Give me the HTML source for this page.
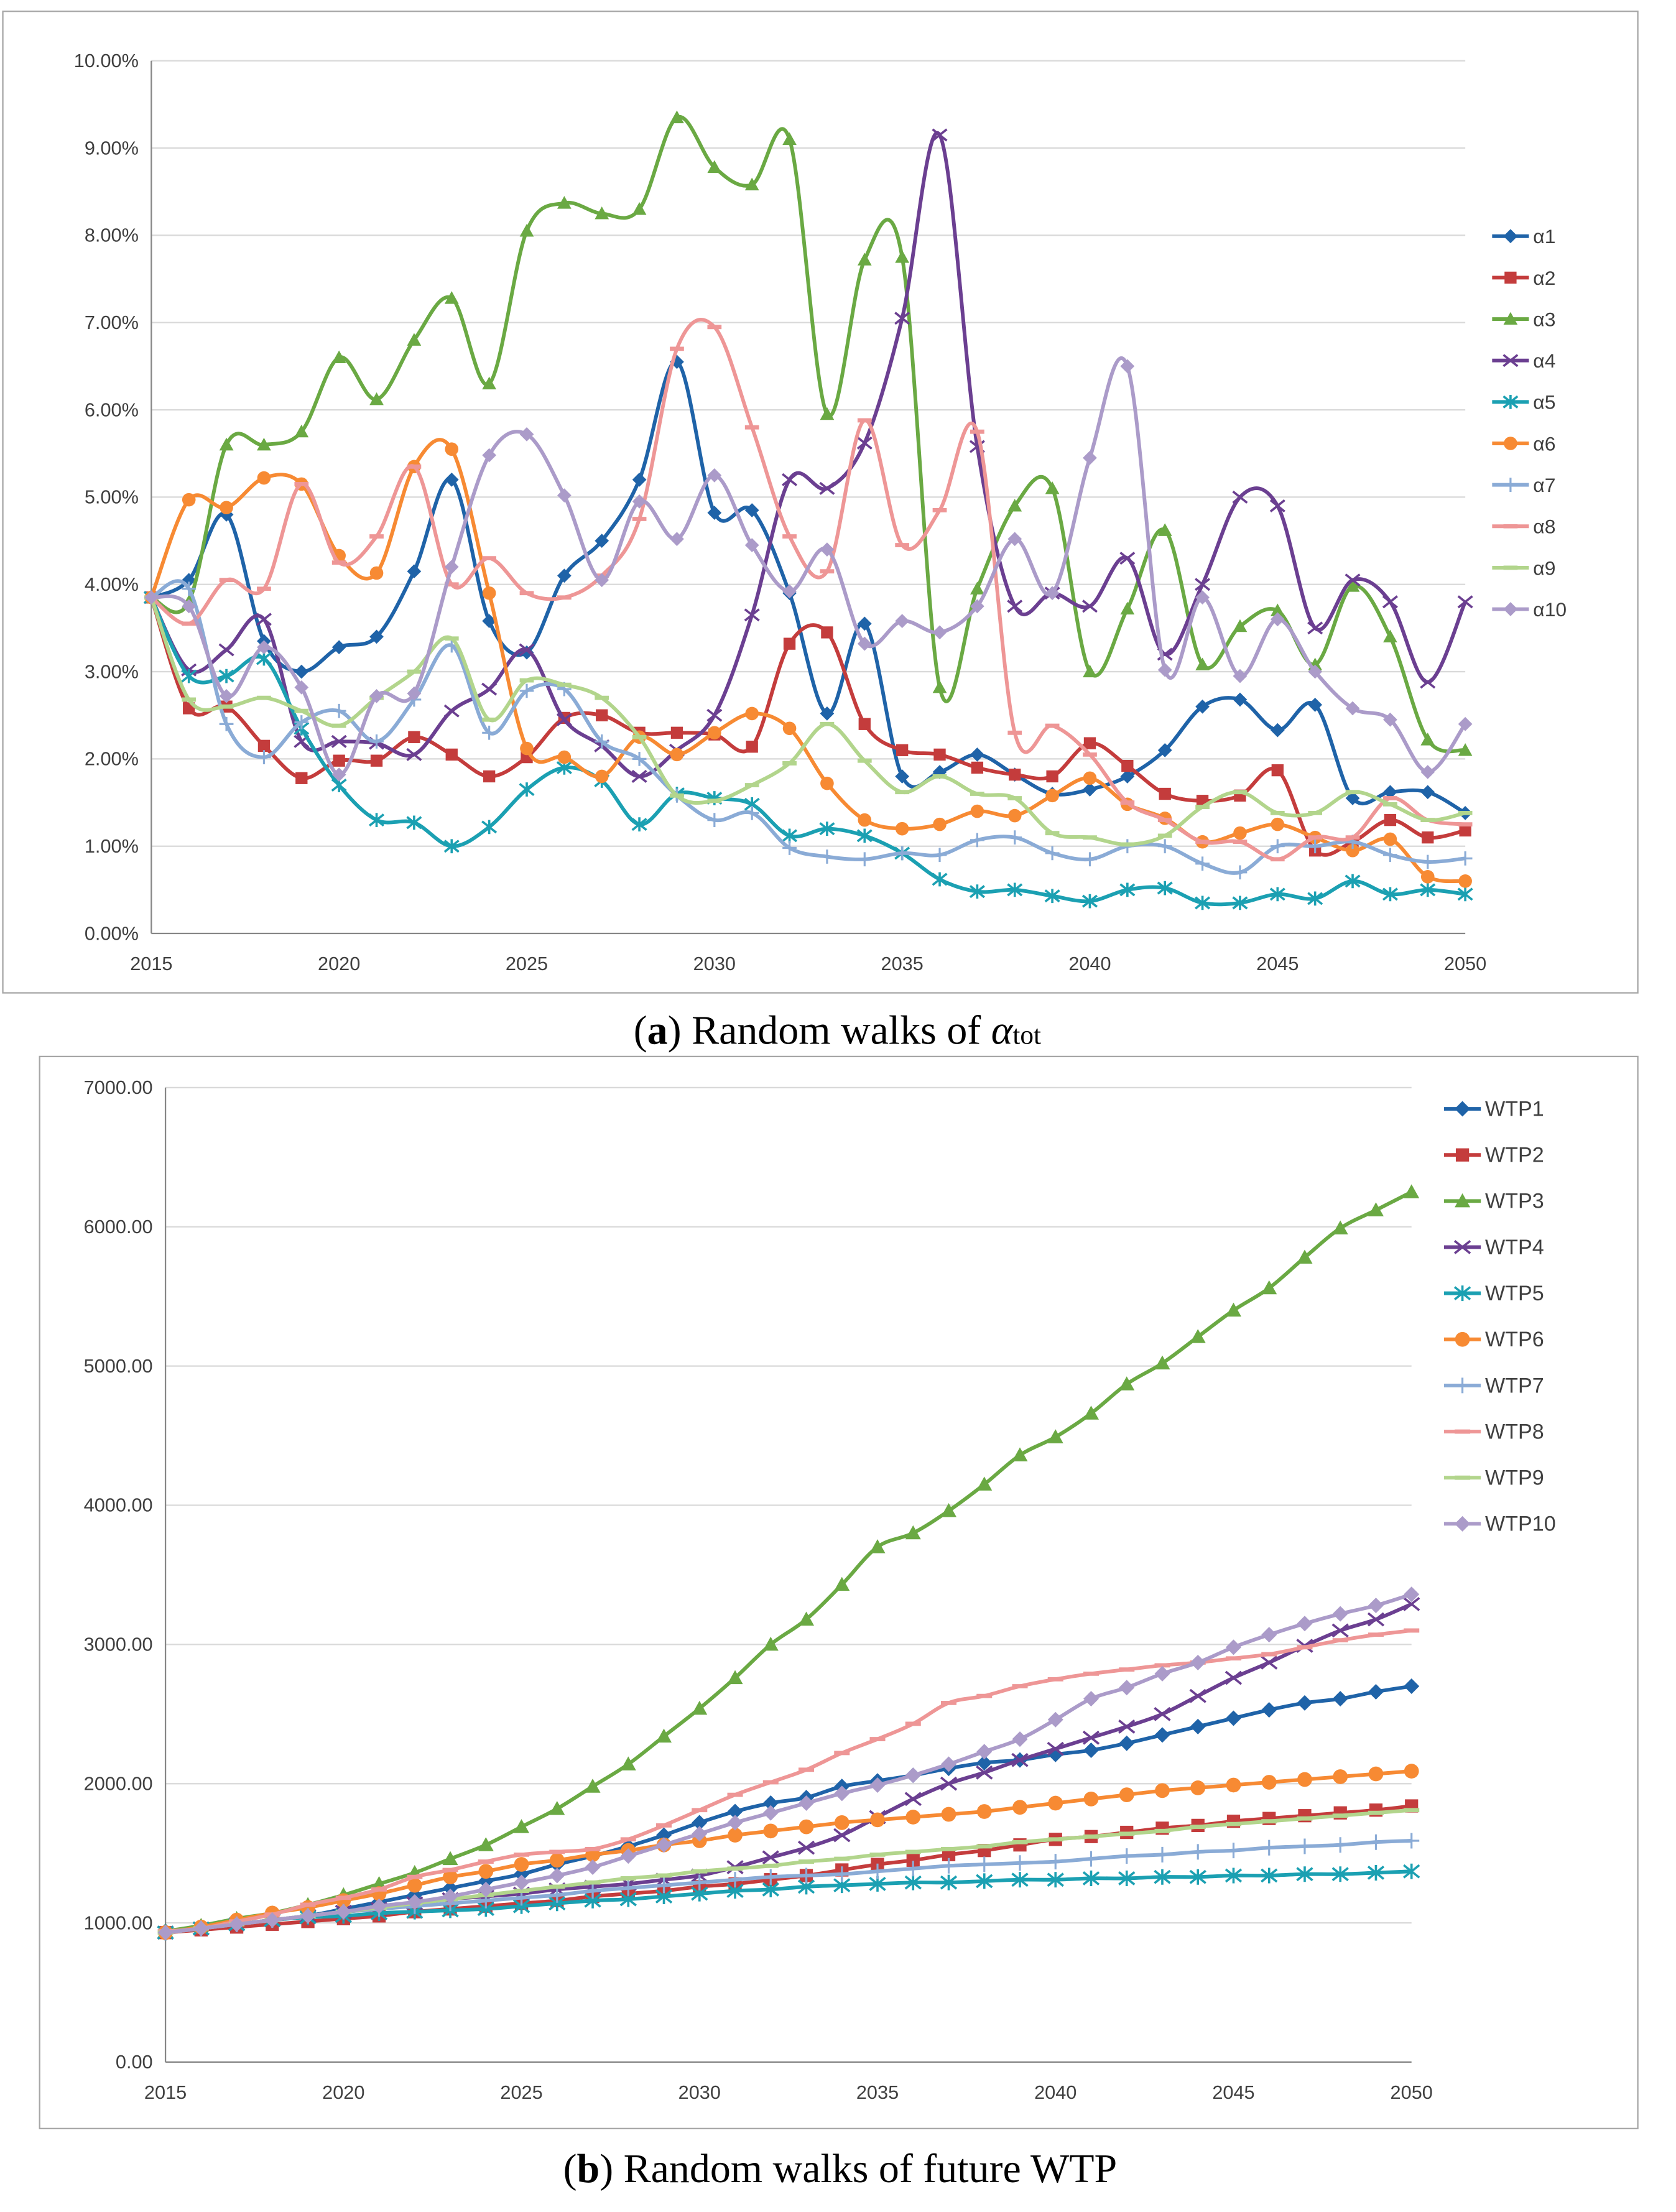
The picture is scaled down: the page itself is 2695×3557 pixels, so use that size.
<!DOCTYPE html>
<html><head><meta charset="utf-8"><style>
html,body{margin:0;padding:0;background:#fff;}
svg{display:block;}
text{font-family:"Liberation Sans",sans-serif;}
</style></head><body>
<svg id="fig" width="2695" height="3557" viewBox="0 0 1185 1564" preserveAspectRatio="none" xmlns="http://www.w3.org/2000/svg">
<rect x="0" y="0" width="1185" height="1564" fill="#fff"/>
<rect x="2" y="8" width="1156" height="694" fill="#fff" stroke="#a6a6a6" stroke-width="1"/>
<rect x="28" y="747" width="1130" height="758" fill="#fff" stroke="#a6a6a6" stroke-width="1"/>
<g id="ga"></g>
<g id="gb"></g>
<text x="592" y="738" text-anchor="middle" font-size="29" style="font-family:'Liberation Serif',serif">(<tspan font-weight="bold">a</tspan>) Random walks of <tspan font-style="italic">α</tspan><tspan font-size="19">tot</tspan></text>
<text x="594" y="1543" text-anchor="middle" font-size="29" style="font-family:'Liberation Serif',serif">(<tspan font-weight="bold">b</tspan>) Random walks of future WTP</text>
</svg>
<script>
const years=[];for(let y=2015;y<=2050;y++)years.push(y);
const xTicks=[2015,2020,2025,2030,2035,2040,2045,2050];
const aTicks=[0,1,2,3,4,5,6,7,8,9,10];
const bTicks=[0,1000,2000,3000,4000,5000,6000,7000];
const aNames=["α1","α2","α3","α4","α5","α6","α7","α8","α9","α10"];
const bNames=["WTP1","WTP2","WTP3","WTP4","WTP5","WTP6","WTP7","WTP8","WTP9","WTP10"];
const a1=[3.85,4.05,4.8,3.35,3.0,3.28,3.4,4.15,5.2,3.58,3.22,4.1,4.5,5.2,6.55,4.82,4.85,3.9,2.52,3.55,1.8,1.85,2.05,1.82,1.6,1.65,1.8,2.1,2.6,2.68,2.33,2.62,1.55,1.62,1.62,1.38];
const a2=[3.85,2.58,2.6,2.15,1.78,1.98,1.98,2.25,2.05,1.8,2.02,2.47,2.5,2.3,2.3,2.28,2.14,3.32,3.45,2.4,2.1,2.05,1.9,1.82,1.8,2.18,1.92,1.6,1.52,1.58,1.87,0.95,1.05,1.3,1.1,1.18];
const a3=[3.85,3.8,5.6,5.6,5.75,6.6,6.12,6.8,7.28,6.3,8.05,8.37,8.25,8.3,9.35,8.78,8.58,9.1,5.95,7.72,7.75,2.82,3.95,4.9,5.1,3.0,3.72,4.62,3.08,3.52,3.7,3.08,3.98,3.4,2.22,2.1];
const a4=[3.85,3.02,3.25,3.6,2.2,2.2,2.18,2.05,2.55,2.8,3.25,2.45,2.15,1.8,2.1,2.5,3.65,5.2,5.1,5.62,7.05,9.15,5.58,3.75,3.9,3.75,4.3,3.2,4.0,5.0,4.9,3.5,4.05,3.8,2.88,3.8];
const a5=[3.85,2.95,2.95,3.15,2.35,1.7,1.3,1.27,1.0,1.22,1.65,1.9,1.75,1.25,1.6,1.55,1.48,1.12,1.2,1.12,0.92,0.62,0.48,0.5,0.43,0.37,0.5,0.52,0.35,0.35,0.45,0.4,0.6,0.45,0.5,0.45];
const a6=[3.85,4.97,4.88,5.22,5.15,4.33,4.13,5.35,5.55,3.9,2.12,2.02,1.8,2.25,2.05,2.3,2.52,2.35,1.72,1.3,1.2,1.25,1.4,1.35,1.58,1.78,1.48,1.32,1.05,1.15,1.25,1.1,0.95,1.08,0.65,0.6];
const a7=[3.85,3.95,2.4,2.02,2.42,2.55,2.2,2.68,3.3,2.3,2.78,2.8,2.2,2.0,1.58,1.3,1.38,0.98,0.88,0.85,0.92,0.9,1.07,1.1,0.92,0.85,1.0,1.0,0.8,0.7,1.0,1.0,1.05,0.9,0.82,0.86];
const a8=[3.85,3.55,4.05,3.95,5.15,4.25,4.55,5.35,4.0,4.3,3.9,3.85,4.1,4.75,6.7,6.95,5.8,4.55,4.15,5.88,4.45,4.85,5.75,2.3,2.38,2.05,1.5,1.3,1.05,1.05,0.85,1.1,1.1,1.55,1.3,1.25];
const a9=[3.85,2.68,2.6,2.7,2.55,2.38,2.7,3.0,3.38,2.45,2.9,2.85,2.7,2.25,1.58,1.52,1.7,1.95,2.4,1.98,1.62,1.8,1.6,1.55,1.15,1.1,1.02,1.12,1.45,1.62,1.38,1.38,1.62,1.48,1.3,1.38];
const a10=[3.85,3.75,2.72,3.28,2.82,1.82,2.72,2.75,4.2,5.48,5.72,5.02,4.05,4.95,4.52,5.25,4.45,3.92,4.4,3.32,3.58,3.45,3.75,4.52,3.9,5.45,6.5,3.02,3.85,2.95,3.6,3.0,2.58,2.45,1.85,2.4];
const w1=[940,960,990,1020,1050,1100,1150,1200,1250,1300,1350,1420,1480,1550,1630,1720,1800,1860,1900,1980,2020,2060,2110,2150,2170,2210,2240,2290,2350,2410,2470,2530,2580,2610,2660,2700];
const w2=[930,950,970,990,1010,1030,1050,1080,1100,1120,1140,1160,1190,1210,1230,1260,1280,1310,1340,1380,1420,1450,1490,1520,1560,1600,1620,1650,1680,1700,1730,1750,1770,1790,1810,1840];
const w3=[940,980,1030,1070,1130,1200,1280,1360,1460,1560,1690,1820,1980,2140,2340,2540,2760,3000,3180,3430,3700,3800,3960,4150,4360,4490,4660,4870,5020,5210,5400,5560,5780,5990,6120,6250];
const w4=[930,960,990,1020,1050,1080,1100,1140,1170,1190,1210,1240,1260,1280,1310,1340,1400,1470,1540,1630,1760,1890,2000,2080,2170,2250,2330,2410,2500,2630,2760,2870,2990,3100,3180,3290];
const w5=[930,960,990,1020,1040,1050,1070,1080,1090,1100,1120,1140,1160,1170,1190,1210,1230,1240,1260,1270,1280,1290,1290,1300,1310,1310,1320,1320,1330,1330,1340,1340,1350,1350,1360,1370];
const w6=[930,970,1020,1070,1110,1160,1210,1270,1330,1370,1420,1450,1490,1520,1560,1590,1630,1660,1690,1720,1740,1760,1780,1800,1830,1860,1890,1920,1950,1970,1990,2010,2030,2050,2070,2090];
const w7=[930,960,990,1020,1050,1080,1100,1120,1140,1160,1180,1200,1230,1250,1270,1290,1310,1330,1340,1350,1370,1390,1410,1420,1430,1440,1460,1480,1490,1510,1520,1540,1550,1560,1580,1590];
const w8=[940,960,1010,1060,1130,1180,1240,1330,1380,1440,1490,1510,1530,1600,1700,1810,1920,2010,2100,2220,2320,2430,2580,2630,2700,2750,2790,2820,2850,2870,2900,2930,2980,3030,3070,3100];
const w9=[930,960,990,1020,1050,1080,1110,1140,1170,1200,1230,1260,1290,1320,1340,1370,1390,1410,1440,1460,1490,1510,1530,1550,1580,1600,1620,1640,1660,1690,1710,1730,1750,1770,1790,1810];
const w10=[930,960,990,1020,1050,1080,1120,1150,1190,1240,1290,1340,1400,1480,1560,1640,1720,1790,1860,1930,1990,2060,2140,2230,2320,2460,2610,2690,2790,2870,2980,3070,3150,3220,3280,3360];
const aSeries=[a1,a2,a3,a4,a5,a6,a7,a8,a9,a10];
const bSeries=[w1,w2,w3,w4,w5,w6,w7,w8,w9,w10];

const colors=["#1f63a8","#c43c3c","#6aa943","#6b3f91","#1ba0b2","#f78a33","#8aabd6","#ee9696","#b2d58c","#ab9bc9"];
const markers=["diamond","square","triangle","x","star","circle","plus","dash","dash","diamond"];
const NS="http://www.w3.org/2000/svg";
function mk(tag,attrs,parent){const e=document.createElementNS(NS,tag);for(const k in attrs)e.setAttribute(k,attrs[k]);parent.appendChild(e);return e;}
function smooth(pts){let d="M"+pts[0][0]+","+pts[0][1];for(let i=0;i<pts.length-1;i++){const p0=pts[i-1]||pts[i],p1=pts[i],p2=pts[i+1],p3=pts[i+2]||p2;const c1=[p1[0]+(p2[0]-p0[0])/6,p1[1]+(p2[1]-p0[1])/6];const c2=[p2[0]-(p3[0]-p1[0])/6,p2[1]-(p3[1]-p1[1])/6];d+=" C"+c1[0].toFixed(2)+","+c1[1].toFixed(2)+" "+c2[0].toFixed(2)+","+c2[1].toFixed(2)+" "+p2[0].toFixed(2)+","+p2[1].toFixed(2);}return d;}
function marker(g,type,x,y,c,s){
 let e;
 if(type==="diamond")e=mk("path",{d:`M${x},${y-s} L${x+s},${y} L${x},${y+s} L${x-s},${y}Z`,fill:c},g);
 else if(type==="square")e=mk("rect",{x:x-s*0.85,y:y-s*0.85,width:s*1.7,height:s*1.7,fill:c},g);
 else if(type==="triangle")e=mk("path",{d:`M${x},${y-s} L${x+s},${y+s*0.8} L${x-s},${y+s*0.8}Z`,fill:c},g);
 else if(type==="circle")e=mk("circle",{cx:x,cy:y,r:s*0.95,fill:c},g);
 else if(type==="x")e=mk("path",{d:`M${x-s},${y-s*0.8} L${x+s},${y+s*0.8} M${x-s},${y+s*0.8} L${x+s},${y-s*0.8}`,stroke:c,"stroke-width":1.6,fill:"none"},g);
 else if(type==="star")e=mk("path",{d:`M${x-s},${y-s*0.8} L${x+s},${y+s*0.8} M${x-s},${y+s*0.8} L${x+s},${y-s*0.8} M${x},${y-s} L${x},${y+s}`,stroke:c,"stroke-width":1.6,fill:"none"},g);
 else if(type==="plus")e=mk("path",{d:`M${x-s},${y} L${x+s},${y} M${x},${y-s} L${x},${y+s}`,stroke:c,"stroke-width":1.4,fill:"none"},g);
 else e=mk("path",{d:`M${x-s},${y} L${x+s},${y}`,stroke:c,"stroke-width":3,fill:"none"},g);
 
 
}
function chart(g,cfg){
 const X=v=>cfg.x0+(v-2015)/35*(cfg.x1-cfg.x0);
 const Y=v=>cfg.y0-(v-cfg.vmin)/(cfg.vmax-cfg.vmin)*(cfg.y0-cfg.y1);
 cfg.yTicks.forEach(t=>{
  const l=mk("line",{x1:cfg.x0,x2:cfg.x1,y1:Y(t),y2:Y(t),stroke:t===cfg.vmin?"#868686":"#d9d9d9","stroke-width":1},g);
  
  
  const tx=mk("text",{x:cfg.x0-9,y:Y(t)+4.5,"text-anchor":"end","font-size":13.5,fill:"#404040"},g);
  tx.textContent=cfg.fmt(t);
  
  
 });
 const ax=mk("line",{x1:cfg.x0,x2:cfg.x0,y1:cfg.y0,y2:cfg.y1,stroke:"#868686","stroke-width":1},g);
 
 
 xTicks.forEach(t=>{
  const tx=mk("text",{x:X(t),y:cfg.y0+26,"text-anchor":"middle","font-size":13.5,fill:"#404040"},g);
  tx.textContent=t;
  
  
 });
 cfg.series.forEach((s,i)=>{
  const sg=mk("g",{},g);
  
  
  const pts=s.map((v,j)=>[X(years[j]),Y(v)]);
  const p=mk("path",{d:smooth(pts),stroke:colors[i],"stroke-width":2.6,fill:"none"},sg);
  
  
  pts.forEach(q=>marker(sg,markers[i],q[0],q[1],colors[i],cfg.ms));
  const ly=cfg.ly0+i*cfg.lstep;
  const lg=mk("g",{},g);
  
  
  mk("line",{x1:cfg.lx,x2:cfg.lx+26,y1:ly,y2:ly,stroke:colors[i],"stroke-width":2.6},lg);
  marker(lg,markers[i],cfg.lx+13,ly,colors[i],cfg.ms);
  const lt=mk("text",{x:cfg.lx+29,y:ly+5,"font-size":cfg.lfs,fill:"#404040"},lg);
  lt.textContent=cfg.names[i];
 });
}
chart(document.getElementById("ga"),{x0:107,x1:1036,y0:660,y1:43,vmin:0,vmax:10,yTicks:aTicks,fmt:t=>t.toFixed(2)+"%",series:aSeries,names:aNames,lx:1055,ly0:167,lstep:29.3,lfs:14,ms:5});
chart(document.getElementById("gb"),{x0:117,x1:998,y0:1458,y1:769,vmin:0,vmax:7000,yTicks:bTicks,fmt:t=>t.toFixed(2),series:bSeries,names:bNames,lx:1021,ly0:784,lstep:32.6,lfs:15,ms:5.5});
</script>
</body></html>
